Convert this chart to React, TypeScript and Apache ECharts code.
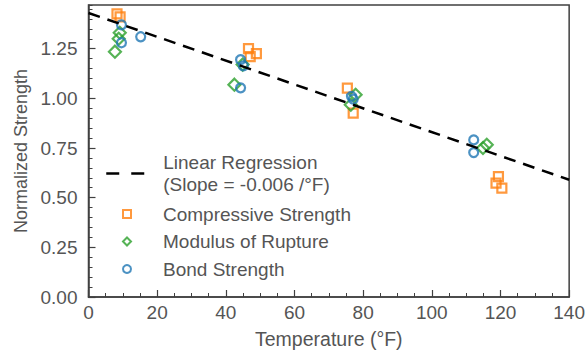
import React, { useEffect, useRef } from "react";
import * as echarts from "echarts";

// Regression line endpoints (temperature °F, normalized strength)
const regressionX = [0, 140];
const regressionY = [1.43, 0.59];

// Compressive Strength
const compressiveT = [8.3, 9.2, 46.6, 48.9, 47.1, 75.4, 77.1, 119.4, 118.7, 120.4];
const compressiveV = [1.425, 1.41, 1.25, 1.225, 1.21, 1.052, 0.926, 0.606, 0.573, 0.548];

// Modulus of Rupture
const ruptureT = [9.1, 8.8, 7.7, 42.5, 44.9, 77.8, 76.4, 116.0, 114.9];
const ruptureV = [1.33, 1.3, 1.235, 1.069, 1.17, 1.018, 0.968, 0.766, 0.75];

// Bond Strength
const bondT = [9.6, 9.6, 15.2, 44.3, 45.1, 44.3, 77.1, 76.6, 112.2, 112.2];
const bondV = [1.37, 1.28, 1.31, 1.195, 1.164, 1.053, 0.996, 1.01, 0.791, 0.727];

const xTicks = [0, 20, 40, 60, 80, 100, 120, 140];
const yTickLabels = ["0.00", "0.25", "0.50", "0.75", "1.00", "1.25"];

const LR_NAME = "Linear Regression\n(Slope = -0.006 /°F)";
const ORANGE = "#ff7f0e";
const GREEN = "#2ca02c";
const BLUE = "#1f77b4";
const TEXT = "#555555";
const FRAME = "#404040";
const FONT = "'Liberation Sans', Arial, Helvetica, sans-serif";

const zip = (a: number[], b: number[]) => a.map((v, i) => [v, b[i]]);

export default function App() {
  const ref = useRef<HTMLDivElement>(null);
  useEffect(() => {
    if (!ref.current) return;
    const chart = echarts.init(ref.current, undefined, { renderer: "svg" });
    const yMin = 0;
    const yMax = 1.47;
    const hidden = { color: "rgba(0,0,0,0)", borderColor: "rgba(0,0,0,0)", borderWidth: 0 };
    chart.setOption({
      animation: false,
      backgroundColor: "#ffffff",
      textStyle: { fontFamily: FONT },
      grid: {
        left: 88.5,
        right: 17,
        top: 5,
        bottom: 57,
        show: true,
        borderColor: FRAME,
        borderWidth: 1.5,
        backgroundColor: "transparent",
      },
      xAxis: {
        type: "value",
        min: xTicks[0],
        max: xTicks[xTicks.length - 1],
        interval: 20,
        axisLine: { show: true, lineStyle: { color: FRAME, width: 1.5 } },
        axisTick: { show: true, inside: true, length: 7, lineStyle: { color: FRAME, width: 1.2 } },
        minorTick: { show: true, splitNumber: 4, length: 4, lineStyle: { color: FRAME, width: 1 } },
        splitLine: { show: false },
        minorSplitLine: { show: false },
        axisLabel: { fontSize: 19, color: TEXT, margin: 6, fontFamily: FONT },
        name: "Temperature (°F)",
        nameLocation: "middle",
        nameGap: 32,
        nameTextStyle: { fontSize: 19.5, color: TEXT, fontFamily: FONT },
      },
      yAxis: [
        {
          type: "value",
          min: yMin,
          max: yMax,
          interval: 0.25,
          axisLine: { show: true, lineStyle: { color: FRAME, width: 1.5 } },
          axisTick: { show: true, inside: true, length: 7, lineStyle: { color: FRAME, width: 1.2 } },
          splitLine: { show: false },
          axisLabel: {
            fontSize: 19,
            color: TEXT,
            margin: 11,
            fontFamily: FONT,
            showMaxLabel: false,
            formatter: (v: number) => {
              const idx = Math.round(v / 0.25);
              return Math.abs(idx * 0.25 - v) < 1e-6 && yTickLabels[idx] ? yTickLabels[idx] : "";
            },
          },
          name: "Normalized Strength",
          nameLocation: "middle",
          nameGap: 58,
          nameTextStyle: { fontSize: 18, color: TEXT, fontFamily: FONT },
        },
        {
          type: "value",
          min: yMin,
          max: yMax,
          interval: 0.05,
          position: "left",
          axisLine: { show: false },
          axisTick: { show: true, inside: true, length: 4, lineStyle: { color: FRAME, width: 1 } },
          splitLine: { show: false },
          axisLabel: { show: false },
        },
      ],
      legend: [
        {
          data: [{ name: LR_NAME, itemStyle: hidden }],
          orient: "vertical",
          left: 100,
          top: 147,
          itemWidth: 38,
          itemHeight: 10,
          lineStyle: { width: 2.5, type: [13, 12], color: "#000" },
          textStyle: { fontSize: 19, color: TEXT, lineHeight: 21.5, padding: [0, 0, 0, 14], fontFamily: FONT },
        },
        {
          data: [
            { name: "Compressive Strength", icon: "rect", itemStyle: { color: "#fff", borderColor: ORANGE, borderWidth: 2 } },
            { name: "Modulus of Rupture", icon: "diamond", itemStyle: { color: "#fff", borderColor: GREEN, borderWidth: 2 } },
            { name: "Bond Strength", icon: "circle", itemStyle: { color: "#fff", borderColor: BLUE, borderWidth: 2 } },
          ],
          orient: "vertical",
          left: 117,
          top: 199,
          itemWidth: 8,
          itemHeight: 8,
          itemGap: 7.5,
          textStyle: { fontSize: 19, color: TEXT, lineHeight: 20, padding: [0, 0, 0, 27], fontFamily: FONT },
        },
      ],
      series: [
        {
          name: LR_NAME,
          type: "line",
          data: zip(regressionX, regressionY),
          symbol: "none",
          z: 5,
          lineStyle: { color: "#000", width: 2.5, type: [12, 8] },
          itemStyle: { color: "#000" },
        },
        {
          name: "Compressive Strength",
          type: "scatter",
          data: zip(compressiveT, compressiveV),
          symbol: "rect",
          symbolSize: 9,
          itemStyle: { color: "rgba(255,255,255,0)", borderColor: ORANGE, borderWidth: 2.2 },
          z: 2,
        },
        {
          name: "Modulus of Rupture",
          type: "scatter",
          data: zip(ruptureT, ruptureV),
          symbol: "diamond",
          symbolSize: 12,
          itemStyle: { color: "rgba(255,255,255,0)", borderColor: GREEN, borderWidth: 2.2 },
          z: 2,
        },
        {
          name: "Bond Strength",
          type: "scatter",
          data: zip(bondT, bondV),
          symbol: "circle",
          symbolSize: 9,
          itemStyle: { color: "rgba(255,255,255,0)", borderColor: BLUE, borderWidth: 2.2 },
          z: 2,
        },
      ],
    });
    return () => chart.dispose();
  }, []);
  return (
    <div
      ref={ref}
      style={{ position: "fixed", left: 0, top: 0, width: 588, height: 354 }}
    />
  );
}
